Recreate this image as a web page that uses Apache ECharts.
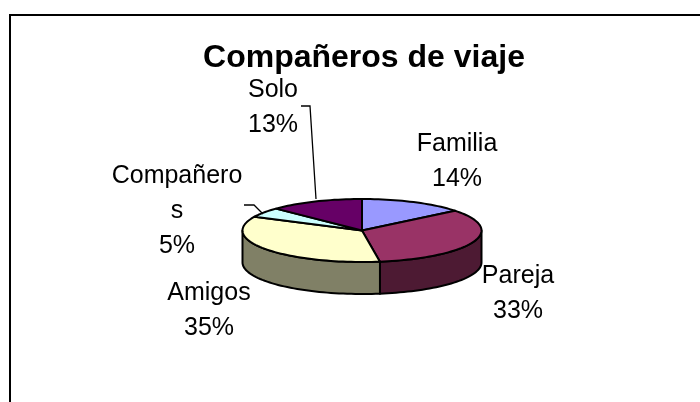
<!DOCTYPE html>
<html>
<head>
<meta charset="utf-8">
<script src="https://cdn.jsdelivr.net/npm/echarts@6/dist/echarts.min.js"></script>
<style>
  html, body { margin: 0; padding: 0; background: #fff; }
  #chart { width: 700px; height: 402px; }
</style>
</head>
<body>
<div id="chart"></div>
<script>
const categories = ['Familia', 'Pareja', 'Amigos', 'Compañeros', 'Solo']
const shares = [14.2, 33.4, 34.6, 5, 12.8]
const topColors = ['#9999ff', '#993366', '#ffffcc', '#ccffff', '#660066']
const sideColors = ['#4d4d80', '#4d1a33', '#808066', '#668080', '#330033']

// label box centre and wrapped text per slice, hand placed like the original
const labelLines = [['Familia'], ['Pareja'], ['Amigos'], ['Compañero', 's'], ['Solo']]
const labelSpots = [[457, 162], [518, 294], [209, 311], [177, 211], [273, 108]]
const leaders = [null, null, null, [[244, 205], [254, 205], [263, 214]], [[301, 106], [310, 106], [316, 199]]]

const cx = 362
const cy = 230.5
const rx = 119.5
const ry = 31.5
const depth = 32
const font = '"Liberation Sans", Arial, sans-serif'

const total = shares.reduce((a, b) => a + b, 0)
const edge = (deg, dy = 0) => {
  const t = deg * Math.PI / 180
  return [cx + rx * Math.sin(t), cy + dy - ry * Math.cos(t)]
}
const arcPoints = (from, to, dy = 0) => {
  const pts = []
  const n = Math.max(2, Math.ceil(Math.abs(to - from) / 2))
  for (let i = 0; i <= n; i++) pts.push(edge(from + (to - from) * i / n, dy))
  return pts
}
const lineStyle = { stroke: '#000', lineWidth: 2, lineJoin: 'round' }

const renderSlice = (params, api) => {
  const i = params.dataIndex
  const start = shares.slice(0, i).reduce((a, b) => a + b, 0) / total * 360
  const end = start + api.value(1) / total * 360
  const children = []

  // side wall only on the front half of the ellipse (90..270 deg)
  const from = Math.max(start, 90)
  const to = Math.min(end, 270)
  if (to > from) {
    const front = arcPoints(from, to)
    const back = arcPoints(to, from, depth)
    children.push({
      type: 'polygon',
      shape: { points: front.concat(back) },
      style: { fill: sideColors[i], ...lineStyle },
    })
  }
  children.push({
    type: 'polygon',
    shape: { points: [[cx, cy]].concat(arcPoints(start, end)) },
    style: { fill: topColors[i], ...lineStyle },
  })
  if (leaders[i]) {
    children.push({
      type: 'polyline',
      shape: { points: leaders[i] },
      style: { fill: null, stroke: '#000', lineWidth: 1.3 },
    })
  }
  const text = labelLines[i].concat(Math.round(api.value(1)) + '%').join('\n')
  children.push({
    type: 'text',
    x: labelSpots[i][0],
    y: labelSpots[i][1],
    style: {
      text,
      font: '25px ' + font,
      fill: '#000',
      align: 'center',
      verticalAlign: 'middle',
      lineHeight: 35,
    },
  })
  return { type: 'group', children }
}

const chart = echarts.init(document.getElementById('chart'), null, { renderer: 'canvas' })
chart.setOption({
  animation: false,
  backgroundColor: '#fff',
  title: {
    text: 'Compañeros de viaje',
    left: 364,
    top: 37,
    textAlign: 'center',
    textStyle: { fontFamily: font, fontSize: 32, fontWeight: 'bold', color: '#000' },
  },
  graphic: [{
    type: 'polyline',
    shape: { points: [[10, 402], [10, 15], [700, 15]] },
    style: { fill: null, stroke: '#000', lineWidth: 2 },
  }],
  series: [{
    type: 'custom',
    coordinateSystem: 'none',
    renderItem: renderSlice,
    data: categories.map((name, i) => ({ name, value: [i, shares[i]] })),
  }],
}, true)
chart.setOption({ title: { left: 359 } })
</script>
</body>
</html>
